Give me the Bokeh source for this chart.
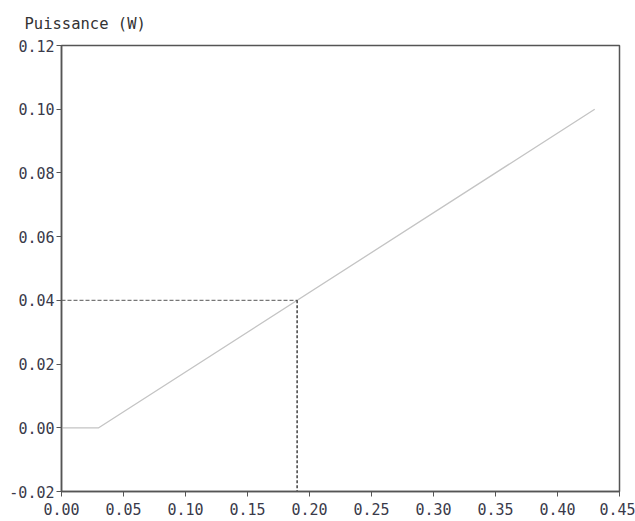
from bokeh.plotting import figure
from bokeh.models import FixedTicker, NumeralTickFormatter, Range1d
from bokeh.embed import file_html
from bokeh.resources import INLINE

# data
x_vals = [0.0, 0.03, 0.43]
power_w = [0.0, 0.0, 0.10]
point_x = [0.19]
point_y = [0.04]
x_ticks = [0.0, 0.05, 0.10, 0.15, 0.20, 0.25, 0.30, 0.35, 0.40, 0.45]
y_ticks = [-0.02, 0.0, 0.02, 0.04, 0.06, 0.08, 0.10, 0.12]
y_title = "Puissance (W)"

FONT = "DejaVu Sans Mono"
x0, x1 = 0.0, 0.45
y0, y1 = -0.02, 0.12

p = figure(width=635, height=521, output_backend="svg", toolbar_location=None,
           x_range=Range1d(x0, x1), y_range=Range1d(y0, y1),
           min_border_left=61, min_border_right=16, min_border_top=44, min_border_bottom=30,
           title=y_title)
p.title.text_font = FONT
p.title.text_font_size = "15.5px"
p.title.text_font_style = "normal"
p.title.text_color = "#333333"
p.title.align = "left"
p.title.offset = -37
p.title.standoff = 25

p.xgrid.visible = False
p.ygrid.visible = False
p.outline_line_color = "#555555"
p.outline_line_width = 1.5
p.background_fill_color = "white"
p.border_fill_color = "white"

for ax, ticks in ((p.xaxis[0], x_ticks), (p.yaxis[0], y_ticks)):
    ax.ticker = FixedTicker(ticks=ticks)
    ax.formatter = NumeralTickFormatter(format="0.00")
    ax.major_label_text_font = FONT
    ax.major_label_text_font_size = "15px"
    ax.major_label_text_color = "#3a3a4a"
    ax.axis_line_color = "#555555"
    ax.axis_line_width = 1.5
    ax.major_tick_line_color = "#555555"
    ax.major_tick_in = 0
    ax.major_tick_out = 5
    ax.minor_tick_line_color = None

p.xaxis[0].major_label_standoff = 6
p.yaxis[0].major_label_standoff = 2

# main curve
p.line(x_vals, power_w, line_color="#c4c4c4", line_width=1.3)

# guide lines to operating point
p.line([x0, point_x[0]], [point_y[0], point_y[0]], line_color="#777777",
       line_width=1.2, line_dash="4 2")
p.line([point_x[0], point_x[0]], [point_y[0], y0], line_color="#111111",
       line_width=1.2, line_dash="3 2")

open("out.html", "w").write(file_html(p, INLINE))
